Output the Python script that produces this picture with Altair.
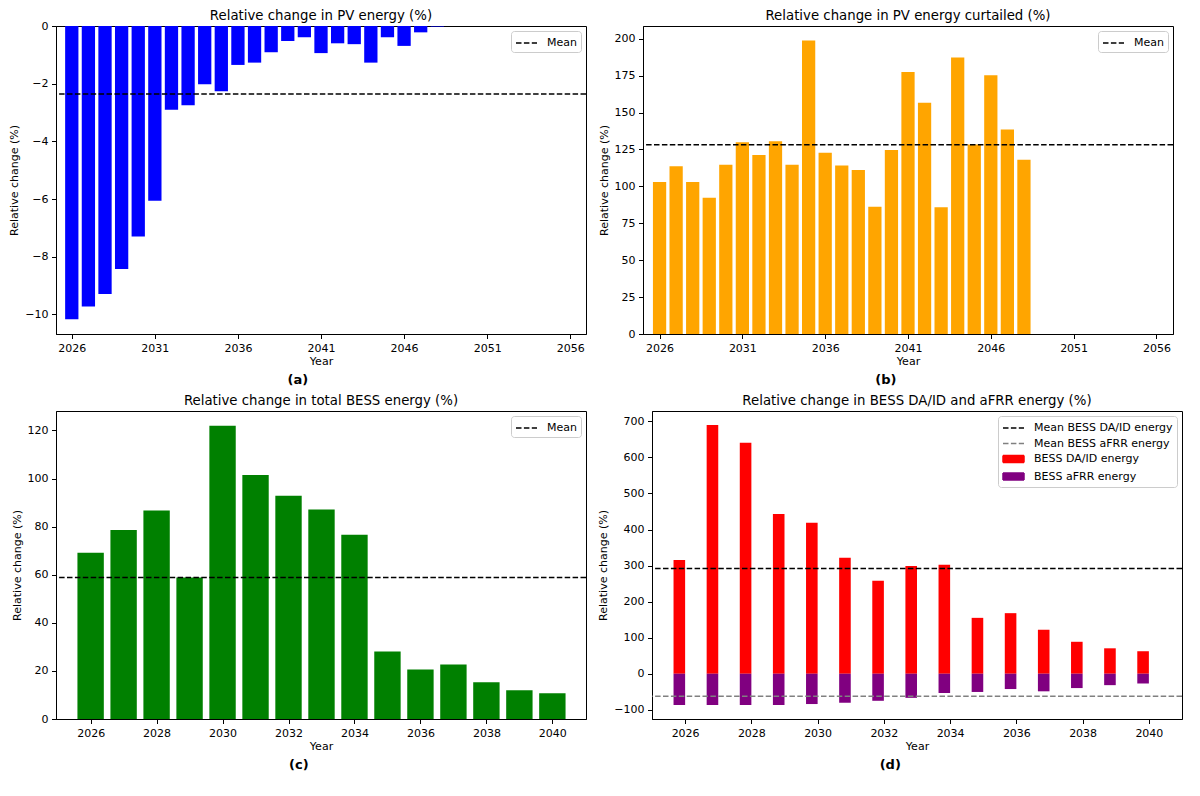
import altair as alt
import pandas as pd

# ---------------- data ----------------
years_ab = list(range(2026, 2049))
pv_energy = [-10.17, -9.73, -9.29, -8.43, -7.30, -6.06, -2.90, -2.75, -2.02, -2.26,
             -1.35, -1.27, -0.91, -0.52, -0.39, -0.94, -0.60, -0.63, -1.27, -0.39,
             -0.69, -0.22, -0.02]
pv_energy_mean = -2.36

pv_curtailed = [103.0, 113.6, 103.0, 92.2, 114.7, 129.9, 121.3, 130.5, 114.7, 198.7,
                122.8, 114.2, 111.1, 86.2, 124.6, 177.5, 156.6, 85.8, 187.2, 128.3,
                175.3, 138.5, 118.0]
pv_curtailed_mean = 128.1

years_cd = list(range(2026, 2041))
bess_total = [69.1, 78.6, 86.7, 58.8, 122.0, 101.5, 92.9, 87.1, 76.6, 28.1,
              20.6, 22.7, 15.3, 12.0, 10.7]
bess_total_mean = 58.8

bess_daid = [315.6, 690.0, 641.0, 443.0, 419.0, 322.0, 258.0, 299.0, 302.0, 155.0,
             168.0, 122.0, 88.6, 70.5, 62.4]
bess_afrr = [-86.8, -86.8, -86.8, -86.8, -84.1, -80.5, -75.1, -66.9, -53.4, -50.6,
             -42.5, -48.8, -39.8, -31.7, -27.1]
bess_daid_mean = 292.0
bess_afrr_mean = -62.4

ticks_ab_x = [2026, 2031, 2036, 2041, 2046, 2051, 2056]
ticks_cd_x = [2026, 2028, 2030, 2032, 2034, 2036, 2038, 2040]

titles = ["Relative change in PV energy (%)",
          "Relative change in PV energy curtailed (%)",
          "Relative change in total BESS energy (%)",
          "Relative change in BESS DA/ID and aFRR energy (%)"]
letters = ["(a)", "(b)", "(c)", "(d)"]
series = ["Mean BESS DA/ID energy", "Mean BESS aFRR energy", "BESS DA/ID energy", "BESS aFRR energy"]

W, H = 530, 308
FONT = "DejaVu Sans"
DASH = [5.5, 2.4]
TFS = 13.3   # title font size
FS = 11      # tick / label font size
LINE_SYM = "M-1,0H2"
BOX_SYM = "M-1,-0.5H2V0.5H-1Z"


def legend_def(custom_shapes=False):
    kw = dict(title=None, orient="top-right", offset=5, fillColor="white",
              strokeColor="#cccccc", cornerRadius=3, padding=4,
              symbolSize=196, labelFontSize=FS, labelFont=FONT, labelColor="black",
              rowPadding=2.5, symbolStrokeWidth=1.5, labelOffset=16)
    if not custom_shapes:
        kw["symbolType"] = LINE_SYM
    return alt.Legend(**kw)


def xaxis(ticks):
    return alt.Axis(values=ticks, format="d", title="Year", labelOverlap=False)


def yaxis(ticks):
    return alt.Axis(values=ticks, title="Relative change (%)", labelOverlap=False)


CH = ["color", "strokeDash", "fill", "stroke", "shape"]


def indep(c):
    return c.resolve_scale(**{k: "independent" for k in CH}).resolve_legend(**{k: "independent" for k in CH})


def panel_title(t, offset=4):
    return alt.TitleParams(t, anchor="middle", frame="group", fontSize=TFS, offset=offset)


def simple_panel(years, values, color, mean, title, xdom, ydom, xticks, yticks, half=0.4, toff=4):
    xs = alt.Scale(domain=xdom, nice=False, zero=False)
    ys = alt.Scale(domain=ydom, nice=False)
    df = pd.DataFrame({"year": years, "value": values})
    bars = alt.Chart(df).transform_calculate(
        x0=f"datum.year - {half}", x1=f"datum.year + {half}"
    ).mark_bar(color=color).encode(
        x=alt.X("x0:Q", scale=xs, axis=xaxis(xticks)),
        x2="x1:Q",
        y=alt.Y("value:Q", scale=ys, axis=yaxis(yticks)),
        y2=alt.datum(0),
    )
    mdf = pd.DataFrame({"label": ["Mean"], "value": [mean]})
    rule = alt.Chart(mdf).mark_rule(strokeWidth=1.5).encode(
        y=alt.Y("value:Q", scale=ys, axis=yaxis(yticks)),
        color=alt.Color("label:N", scale=alt.Scale(domain=["Mean"], range=["black"]), legend=legend_def()),
        strokeDash=alt.StrokeDash("label:N", scale=alt.Scale(domain=["Mean"], range=[DASH]), legend=legend_def()),
    )
    return alt.layer(bars, rule).properties(width=W, height=H, title=panel_title(title, toff))


pa = simple_panel(years_ab, pv_energy, "#0000ff", pv_energy_mean, titles[0],
                  [2025.05, 2056.95], [-10.68, 0], ticks_ab_x, [0, -2, -4, -6, -8, -10], toff=-2)
pb = simple_panel(years_ab, pv_curtailed, "#ffa500", pv_curtailed_mean, titles[1],
                  [2025.0, 2057.0], [0, 208.6], ticks_ab_x, [0, 25, 50, 75, 100, 125, 150, 175, 200])
pc = simple_panel(years_cd, bess_total, "#008000", bess_total_mean, titles[2],
                  [2024.95, 2041.02], [0, 128.1], ticks_cd_x, [0, 20, 40, 60, 80, 100, 120])

# ---------------- panel (d) ----------------
ddf = pd.DataFrame({"year": years_cd, "daid": bess_daid, "afrr": bess_afrr})
xd = alt.Scale(domain=[2025.0, 2041.0], nice=False, zero=False)
yd = alt.Scale(domain=[-125.6, 728.8], nice=False)
yticks_d = [-100, 0, 100, 200, 300, 400, 500, 600, 700]
dbase = alt.Chart(ddf).transform_calculate(x0="datum.year - 0.35", x1="datum.year")
bars_daid = dbase.mark_bar(color="#ff0000").encode(
    x=alt.X("x0:Q", scale=xd, axis=xaxis(ticks_cd_x)), x2="x1:Q",
    y=alt.Y("daid:Q", scale=yd, axis=yaxis(yticks_d)), y2=alt.datum(0),
)
bars_afrr = dbase.mark_bar(color="#800080").encode(
    x=alt.X("x0:Q", scale=xd, axis=xaxis(ticks_cd_x)), x2="x1:Q",
    y=alt.Y("afrr:Q", scale=yd, axis=yaxis(yticks_d)), y2=alt.datum(0),
)
mean_daid_df = pd.DataFrame({"value": [bess_daid_mean]})
mean_afrr_df = pd.DataFrame({"value": [bess_afrr_mean]})
rule_daid = alt.Chart(mean_daid_df).mark_rule(strokeWidth=1.5, color="black", strokeDash=DASH).encode(
    y=alt.Y("value:Q", scale=yd, axis=yaxis(yticks_d)))
rule_afrr = alt.Chart(mean_afrr_df).mark_rule(strokeWidth=1.5, color="#808080", strokeDash=DASH).encode(
    y=alt.Y("value:Q", scale=yd, axis=yaxis(yticks_d)))

# legend-only layer (its rows are filtered out): one merged legend with line and box symbols
leg_colors = ["black", "#808080", "#ff0000", "#800080"]
leg_shapes = [LINE_SYM, LINE_SYM, BOX_SYM, BOX_SYM]
leg_dashes = [DASH, DASH, [1, 0], [1, 0]]
ldf = pd.DataFrame({"series": series, "value": [0, 0, 0, 0]})
legend_layer = alt.Chart(ldf).transform_filter("false").mark_point(
    filled=True, opacity=1, strokeWidth=1.5
).encode(
    y=alt.Y("value:Q", scale=yd, axis=yaxis(yticks_d)),
    fill=alt.Fill("series:N", scale=alt.Scale(domain=series, range=leg_colors), legend=legend_def(True)),
    stroke=alt.Stroke("series:N", scale=alt.Scale(domain=series, range=leg_colors), legend=legend_def(True)),
    strokeDash=alt.StrokeDash("series:N", scale=alt.Scale(domain=series, range=leg_dashes), legend=legend_def(True)),
    shape=alt.Shape("series:N", scale=alt.Scale(domain=series, range=leg_shapes), legend=legend_def(True)),
)
pd_ = alt.layer(bars_daid, bars_afrr, rule_daid, rule_afrr, legend_layer).properties(
    width=W, height=H, title=panel_title(titles[3]))


def labeled(panel, letter):
    return indep(alt.vconcat(panel, title=alt.TitleParams(letter, orient="bottom", anchor="middle",
                                                           fontWeight="bold", fontSize=13, offset=7)))


row1 = indep(alt.hconcat(labeled(pa, letters[0]), labeled(pb, letters[1]), spacing=9))
row2 = indep(alt.hconcat(labeled(pc, letters[2]), labeled(pd_, letters[3]), spacing=9))

chart = indep(alt.vconcat(row1, row2, spacing=6)).properties(padding=0).configure(
    font=FONT
).configure_view(
    stroke="black", strokeWidth=1
).configure_axis(
    grid=False, domainColor="black", tickColor="black", labelColor="black", titleColor="black",
    labelFontSize=FS, titleFontSize=FS, titleFontWeight="normal", tickSize=4.5,
    labelFont=FONT, titleFont=FONT, labelPadding=3.5, labelOverlap=False,
).configure_axisX(
    titlePadding=2
).configure_axisY(
    titlePadding=5
).configure_title(
    color="black", font=FONT, fontWeight="normal",
)

chart.save("out.html", embed_options={"renderer": "svg", "actions": False})
